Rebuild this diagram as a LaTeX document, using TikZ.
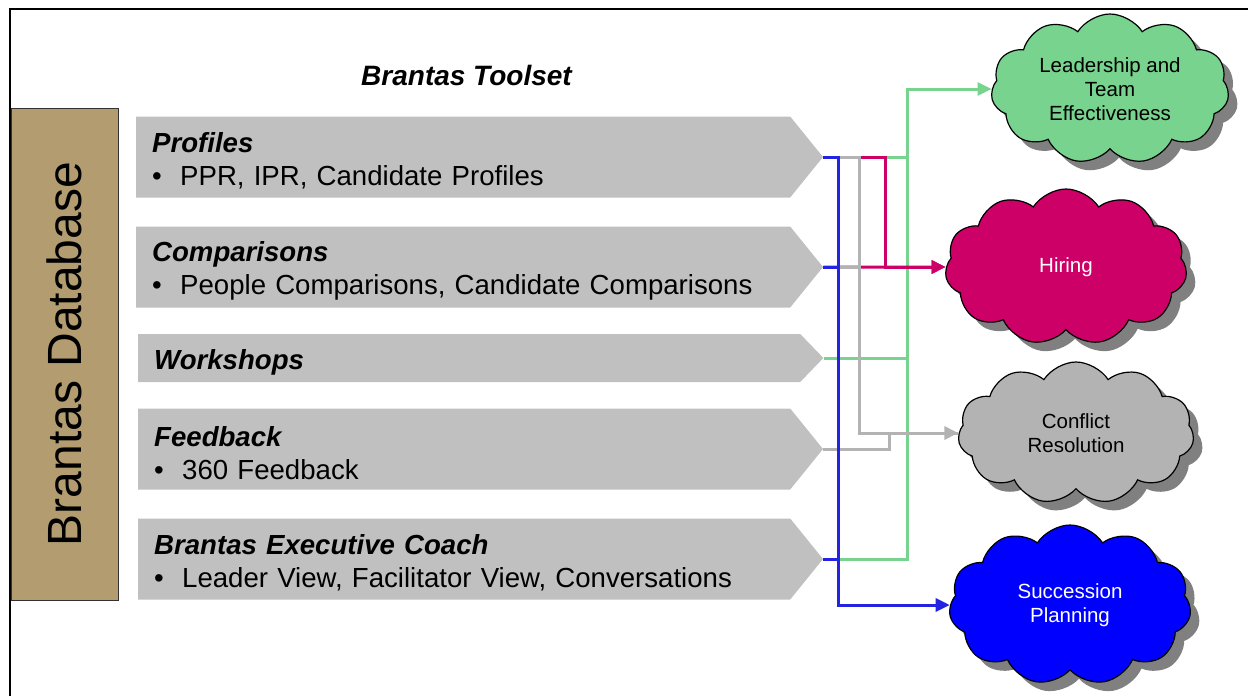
\documentclass[tikz,border=0pt]{standalone}
\usepackage{fontspec}
\setmainfont{Liberation Sans}
\usetikzlibrary{shapes.symbols}
\usetikzlibrary{shadows}
\usetikzlibrary{arrows.meta}
\definecolor{boxgrey}{RGB}{192,192,192}
\definecolor{dbtan}{RGB}{178,156,112}
\definecolor{leadgreen}{RGB}{119,211,141}
\definecolor{hiremagenta}{RGB}{204,0,102}
\definecolor{conflictgrey}{RGB}{179,179,179}
\definecolor{succblue}{RGB}{0,0,255}
\definecolor{wireblue}{RGB}{35,35,225}
\definecolor{shadowgrey}{RGB}{128,128,128}
\newcommand{\boxfont}{\fontsize{27.6}{33}\selectfont}
\newcommand{\cloudfont}{\fontsize{20.5}{24}\selectfont}
\newcommand{\head}[1]{\textbf{\textit{#1}}}
\newcommand{\bulletline}[1]{\makebox[28pt][l]{\textbullet}#1}

\begin{document}
\begin{tikzpicture}[x=1pt,y=-1pt,
  toolbox/.style={signal, signal to=east, signal pointer angle=102, fill=boxgrey,
    inner xsep=16pt, inner ysep=0pt, minimum height=81pt, text width=620pt,
    align=left, font=\boxfont, anchor=west, execute at begin node=\rule{0pt}{28.5pt}},
  cloudbox/.style={cloud, cloud puffs=11, cloud puff arc=115, cloud ignores aspect,
    draw=black, line width=1.2pt, font=\cloudfont, align=center,
    drop shadow={shadow xshift=9pt, shadow yshift=-9pt, fill=shadowgrey, opacity=1}},
  wire/.style={line width=3pt},
  headed/.style={-{Triangle[length=14pt,width=13pt]}}]
  \useasboundingbox (0,0) rectangle (1248,696);
  \draw[line width=2pt] (10,696) -- (10,9) -- (1248,9);

  \node[draw=black!80, fill=dbtan, rotate=90, minimum width=492pt, minimum height=107pt,
    inner sep=0pt, font=\fontsize{48}{56}\selectfont] (db) at (64.5,354) {Brantas Database};
  \node[font=\fontsize{28}{33}\selectfont] (toolset) at (467,75) {\head{Brantas Toolset}};

  \node[toolbox, text width=622pt] (profiles) at (136,157) {\head{Profiles}\\ \bulletline{PPR, IPR, Candidate Profiles}};
  \node[toolbox, text width=622pt] (comparisons) at (136,267) {\head{Comparisons}\\ \bulletline{People Comparisons, Candidate Comparisons}};
  \node[toolbox, minimum height=48pt, signal pointer angle=92, text width=630pt] (workshops) at (138,358) {\head{Workshops}};
  \node[toolbox] (feedback) at (138,449) {\head{Feedback}\\ \bulletline{360 Feedback}};
  \node[toolbox] (coach) at (138,559) {\head{Brantas Executive Coach}\\ \bulletline{Leader View, Facilitator View, Conversations}};

  \node[cloudbox, fill=leadgreen, minimum width=238pt, minimum height=150pt] (lead) at (1110,89) {Leadership and\\ Team\\ Effectiveness};
  \node[cloudbox, fill=hiremagenta, text=white, minimum width=242pt, minimum height=156pt] (hiring) at (1066,267) {Hiring};
  \node[cloudbox, fill=conflictgrey, minimum width=236pt, minimum height=142pt] (conflict) at (1076,433) {Conflict\\ Resolution};
  \node[cloudbox, fill=succblue, text=white, minimum width=242pt, minimum height=160pt] (succession) at (1070,605) {Succession\\ Planning};

  \coordinate (bx) at (838,0);
  \coordinate (grx) at (859,0);
  \coordinate (fx) at (889,0);
  \coordinate (mx) at (885,0);
  \coordinate (gx) at (907,0);

  \draw[wire, leadgreen, headed] (profiles.east) -- (profiles.east -| gx) |- (lead.west);
  \draw[wire, leadgreen] (workshops.east) -| (profiles.east -| gx);
  \draw[wire, leadgreen] (coach.east) -| (profiles.east -| gx);
  \draw[wire, hiremagenta, headed] (profiles.east) -- (profiles.east -| mx) |- (hiring.west);
  \draw[wire, hiremagenta, headed] (comparisons.east) -- (hiring.west);
  \draw[wire, conflictgrey, headed] (profiles.east) -- (profiles.east -| grx) |- (conflict.west);
  \draw[wire, conflictgrey] (comparisons.east) -- (comparisons.east -| grx);
  \draw[wire, conflictgrey] (feedback.east) -- (feedback.east -| fx) |- (conflict.west);
  \draw[wire, wireblue, headed] (profiles.east) -- (profiles.east -| bx) |- (succession.west);
  \draw[wire, wireblue] (comparisons.east) -- (comparisons.east -| bx);
  \draw[wire, wireblue] (coach.east) -- (coach.east -| bx);
\end{tikzpicture}
\end{document}
